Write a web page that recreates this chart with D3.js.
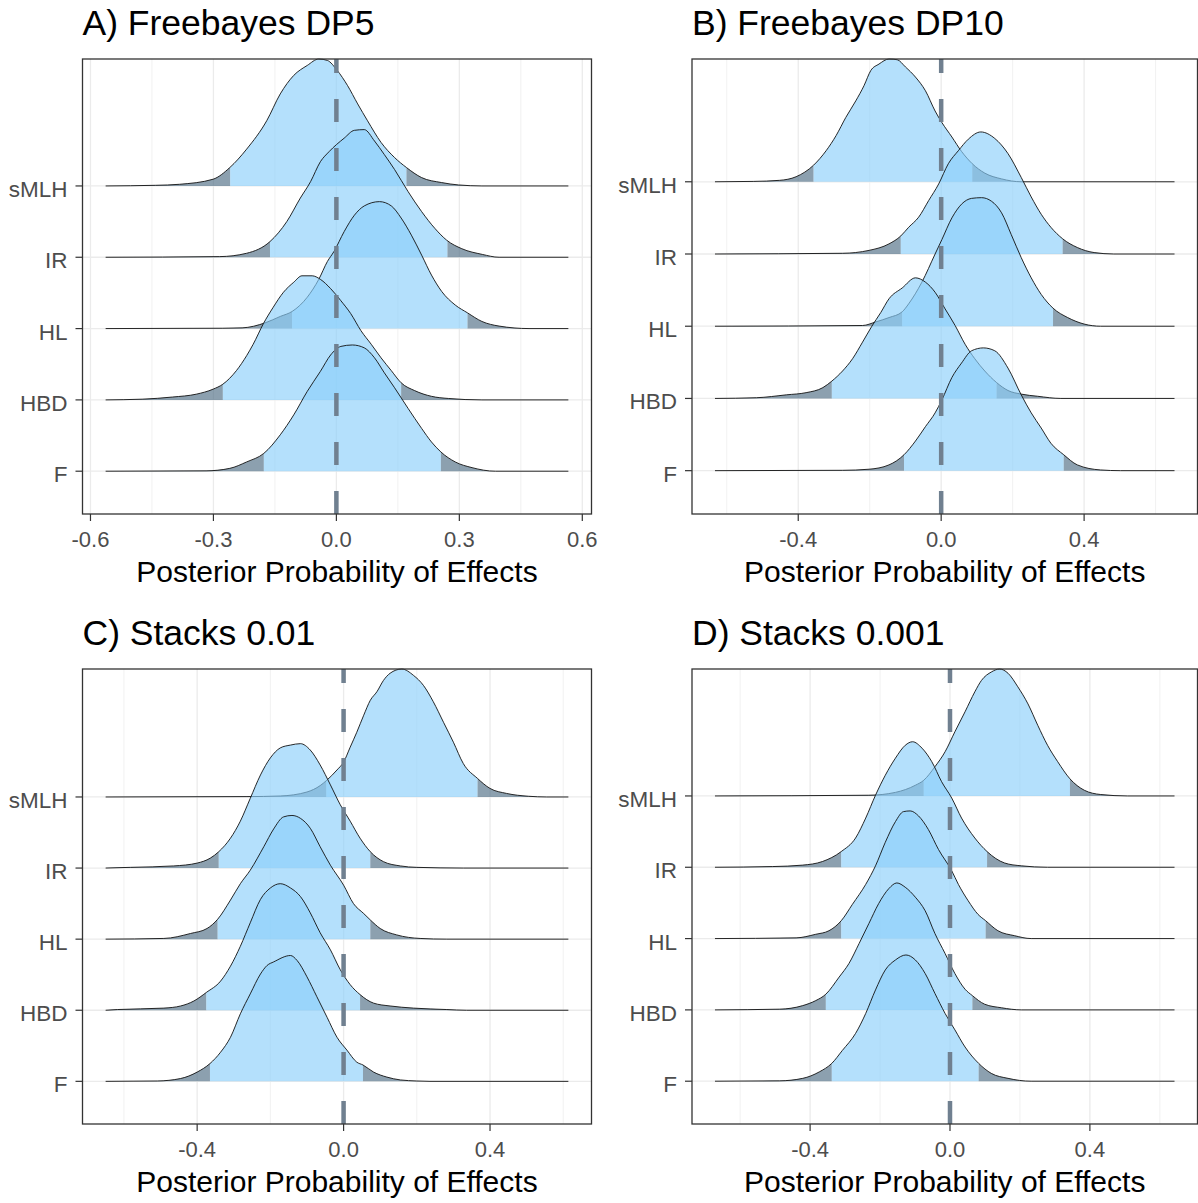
<!DOCTYPE html>
<html>
<head>
<meta charset="utf-8">
<script src="https://cdn.jsdelivr.net/npm/d3@7"></script>
<style>
  body { margin: 0; background: #fff; }
  text { font-family: "Liberation Sans", Arial, sans-serif; }
</style>
</head>
<body>
<div id="chart"></div>
<script>
// Parameters, top row first
const params = ["sMLH", "IR", "HL", "HBD", "F"];
const panelTitles = ["A) Freebayes DP5", "B) Freebayes DP10", "C) Stacks 0.01", "D) Stacks 0.001"];
const axisTitle = "Posterior Probability of Effects";

// x range covered by the density lines in each panel
const xRangeA = [-0.563, 0.566];
const xRangeB = [-0.633, 0.653];
const xRangeC = [-0.650, 0.614];
const xRangeD = [-0.672, 0.642];

// tick values and labels
const ticksA = [-0.6, -0.3, 0, 0.3, 0.6];
const tickLabelsA = ["-0.6", "-0.3", "0.0", "0.3", "0.6"];
const minorA = [-0.45, -0.15, 0.15, 0.45];
const ticksBCD = [-0.4, 0, 0.4];
const tickLabelsBCD = ["-0.4", "0.0", "0.4"];
const minorBCD = [-0.6, -0.2, 0.2, 0.6];

// inner (blue) interval for each parameter: [low, high]
const intervalsA = [[-0.259, 0.171], [-0.162, 0.271], [-0.108, 0.320], [-0.277, 0.158], [-0.177, 0.255]];
const intervalsB = [[-0.357, 0.087], [-0.113, 0.340], [-0.109, 0.313], [-0.306, 0.155], [-0.104, 0.343]];
const intervalsC = [[-0.047, 0.366], [-0.341, 0.073], [-0.344, 0.073], [-0.375, 0.045], [-0.365, 0.053]];
const intervalsD = [[-0.075, 0.343], [-0.311, 0.106], [-0.311, 0.102], [-0.355, 0.064], [-0.338, 0.082]];

// density curves: [effect, height in row units]
const densA_sMLH = [[-0.441,0.009],[-0.383,0.023],[-0.301,0.094],[-0.260,0.258],[-0.219,0.516],[-0.170,0.914],[-0.137,1.29],[-0.104,1.55],[-0.071,1.69],[-0.043,1.78],[-0.022,1.76],[0.002,1.62],[0.027,1.41],[0.052,1.15],[0.076,0.914],[0.109,0.61],[0.142,0.398],[0.171,0.258],[0.208,0.117],[0.257,0.047],[0.298,0.014],[0.355,0]];
const densA_IR = [[-0.285,0.009],[-0.219,0.056],[-0.162,0.22],[-0.121,0.50],[-0.088,0.83],[-0.063,1.06],[-0.039,1.34],[-0.018,1.48],[0.019,1.67],[0.044,1.78],[0.068,1.79],[0.093,1.63],[0.117,1.44],[0.142,1.23],[0.175,0.92],[0.208,0.64],[0.241,0.40],[0.269,0.24],[0.306,0.12],[0.356,0.04],[0.397,0]];
const densA_HL = [[-0.277,0.005],[-0.230,0.01],[-0.174,0.08],[-0.137,0.17],[-0.108,0.24],[-0.071,0.44],[-0.043,0.69],[-0.022,0.94],[-0.006,1.08],[0.019,1.36],[0.044,1.59],[0.068,1.72],[0.105,1.78],[0.134,1.72],[0.158,1.55],[0.183,1.31],[0.208,1.03],[0.232,0.75],[0.257,0.52],[0.290,0.33],[0.320,0.22],[0.355,0.10],[0.397,0.035],[0.470,0]];
const densA_HBD = [[-0.474,0.01],[-0.400,0.04],[-0.342,0.08],[-0.301,0.15],[-0.277,0.22],[-0.244,0.41],[-0.219,0.62],[-0.203,0.78],[-0.178,1.07],[-0.154,1.30],[-0.129,1.51],[-0.104,1.65],[-0.084,1.74],[-0.059,1.74],[-0.039,1.69],[-0.014,1.56],[0.011,1.39],[0.035,1.21],[0.060,0.97],[0.085,0.78],[0.109,0.59],[0.134,0.41],[0.158,0.24],[0.191,0.13],[0.232,0.05],[0.273,0.02],[0.355,0]];
const densA_F = [[-0.318,0.005],[-0.260,0.04],[-0.219,0.13],[-0.177,0.25],[-0.137,0.51],[-0.104,0.79],[-0.071,1.12],[-0.039,1.40],[-0.014,1.63],[0.011,1.75],[0.039,1.77],[0.068,1.73],[0.093,1.59],[0.117,1.38],[0.142,1.17],[0.175,0.88],[0.208,0.60],[0.232,0.41],[0.255,0.27],[0.290,0.13],[0.331,0.05],[0.388,0]];

const densB_sMLH = [[-0.526,0.005],[-0.452,0.02],[-0.406,0.07],[-0.357,0.23],[-0.322,0.43],[-0.294,0.64],[-0.267,0.89],[-0.239,1.12],[-0.216,1.33],[-0.197,1.54],[-0.174,1.63],[-0.146,1.70],[-0.123,1.69],[-0.100,1.59],[-0.072,1.45],[-0.044,1.26],[-0.017,0.98],[0.002,0.82],[0.030,0.62],[0.057,0.42],[0.087,0.25],[0.122,0.12],[0.169,0.04],[0.224,0]];
const densB_IR = [[-0.276,0.01],[-0.202,0.05],[-0.146,0.14],[-0.113,0.25],[-0.091,0.37],[-0.063,0.51],[-0.035,0.74],[-0.007,0.97],[0.020,1.25],[0.048,1.43],[0.076,1.59],[0.111,1.69],[0.150,1.60],[0.187,1.39],[0.224,1.06],[0.252,0.79],[0.280,0.55],[0.307,0.37],[0.340,0.21],[0.381,0.09],[0.428,0.02],[0.483,0]];
const densB_HL = [[-0.220,0.01],[-0.183,0.06],[-0.146,0.12],[-0.109,0.20],[-0.091,0.31],[-0.054,0.61],[-0.017,1.00],[0.002,1.20],[0.030,1.50],[0.057,1.69],[0.085,1.77],[0.113,1.78],[0.141,1.73],[0.169,1.57],[0.196,1.27],[0.224,0.95],[0.252,0.67],[0.280,0.44],[0.313,0.25],[0.354,0.12],[0.400,0.03],[0.446,0]];
const densB_HBD = [[-0.517,0.01],[-0.433,0.05],[-0.378,0.08],[-0.331,0.15],[-0.306,0.24],[-0.276,0.38],[-0.248,0.55],[-0.220,0.78],[-0.194,1.00],[-0.169,1.19],[-0.146,1.38],[-0.109,1.53],[-0.072,1.67],[-0.044,1.61],[-0.017,1.47],[0.011,1.24],[0.039,1.01],[0.067,0.75],[0.094,0.55],[0.122,0.38],[0.155,0.22],[0.187,0.11],[0.224,0.06],[0.270,0.03],[0.335,0]];
const densB_F = [[-0.276,0.005],[-0.202,0.02],[-0.146,0.08],[-0.104,0.22],[-0.072,0.41],[-0.044,0.61],[-0.017,0.80],[0.002,0.98],[0.030,1.29],[0.057,1.49],[0.085,1.66],[0.118,1.70],[0.150,1.66],[0.187,1.42],[0.224,1.05],[0.252,0.80],[0.280,0.59],[0.307,0.38],[0.343,0.22],[0.381,0.08],[0.446,0.01],[0.502,0]];

const densC_sMLH = [[-0.264,0.005],[-0.173,0.014],[-0.100,0.07],[-0.064,0.16],[-0.047,0.23],[-0.018,0.38],[0.000,0.49],[0.018,0.70],[0.036,0.91],[0.055,1.15],[0.073,1.36],[0.091,1.48],[0.109,1.64],[0.127,1.74],[0.159,1.80],[0.191,1.71],[0.218,1.57],[0.245,1.34],[0.273,1.05],[0.300,0.77],[0.327,0.47],[0.366,0.26],[0.400,0.12],[0.445,0.05],[0.505,0.01],[0.555,0]];
const densC_IR = [[-0.582,0.01],[-0.464,0.03],[-0.400,0.07],[-0.364,0.14],[-0.341,0.23],[-0.309,0.42],[-0.282,0.66],[-0.255,0.98],[-0.227,1.31],[-0.200,1.55],[-0.173,1.69],[-0.145,1.73],[-0.118,1.75],[-0.091,1.66],[-0.064,1.45],[-0.036,1.17],[-0.009,0.89],[0.018,0.66],[0.045,0.42],[0.073,0.23],[0.109,0.09],[0.155,0.03],[0.200,0.01],[0.327,0]];
const densC_HL = [[-0.491,0.01],[-0.418,0.08],[-0.373,0.15],[-0.344,0.28],[-0.309,0.55],[-0.282,0.78],[-0.255,0.97],[-0.218,1.30],[-0.191,1.55],[-0.164,1.72],[-0.141,1.74],[-0.118,1.70],[-0.091,1.56],[-0.064,1.30],[-0.036,1.04],[0.000,0.76],[0.027,0.50],[0.055,0.36],[0.073,0.27],[0.100,0.15],[0.145,0.06],[0.209,0.01],[0.282,0]];
const densC_HBD = [[-0.618,0.01],[-0.491,0.03],[-0.445,0.06],[-0.409,0.13],[-0.375,0.25],[-0.336,0.41],[-0.309,0.62],[-0.282,0.90],[-0.255,1.23],[-0.227,1.56],[-0.200,1.72],[-0.173,1.78],[-0.145,1.72],[-0.118,1.60],[-0.091,1.37],[-0.064,1.09],[-0.036,0.85],[-0.009,0.57],[0.018,0.36],[0.045,0.22],[0.082,0.10],[0.127,0.06],[0.191,0.03],[0.282,0.01],[0.336,0]];
const densC_F = [[-0.509,0.005],[-0.445,0.04],[-0.400,0.13],[-0.365,0.25],[-0.336,0.41],[-0.309,0.62],[-0.282,0.95],[-0.255,1.23],[-0.227,1.51],[-0.209,1.63],[-0.191,1.68],[-0.145,1.77],[-0.127,1.70],[-0.100,1.47],[-0.073,1.19],[-0.045,0.90],[-0.018,0.62],[0.009,0.44],[0.036,0.27],[0.053,0.23],[0.082,0.13],[0.118,0.06],[0.155,0.02],[0.200,0.005],[0.236,0]];

const densD_sMLH = [[-0.232,0.01],[-0.156,0.05],[-0.099,0.15],[-0.075,0.22],[-0.043,0.41],[-0.014,0.62],[0.014,0.90],[0.043,1.18],[0.071,1.46],[0.090,1.62],[0.119,1.74],[0.142,1.78],[0.166,1.72],[0.194,1.53],[0.223,1.29],[0.251,0.99],[0.279,0.71],[0.308,0.48],[0.343,0.24],[0.384,0.08],[0.431,0.02],[0.507,0]];
const densD_IR = [[-0.507,0.01],[-0.421,0.03],[-0.365,0.08],[-0.311,0.22],[-0.270,0.41],[-0.241,0.69],[-0.213,1.01],[-0.185,1.29],[-0.156,1.53],[-0.128,1.71],[-0.107,1.76],[-0.080,1.67],[-0.052,1.48],[-0.024,1.20],[0.005,0.97],[0.033,0.69],[0.071,0.41],[0.106,0.22],[0.156,0.06],[0.204,0.02],[0.279,0]];
const densD_HL = [[-0.440,0.01],[-0.384,0.06],[-0.346,0.11],[-0.311,0.25],[-0.279,0.48],[-0.241,0.76],[-0.213,1.02],[-0.185,1.35],[-0.156,1.64],[-0.133,1.78],[-0.114,1.79],[-0.090,1.72],[-0.062,1.53],[-0.033,1.25],[0.005,0.95],[0.024,0.76],[0.052,0.53],[0.080,0.34],[0.102,0.25],[0.137,0.11],[0.185,0.04],[0.232,0]];
const densD_HBD = [[-0.488,0.01],[-0.421,0.06],[-0.384,0.13],[-0.355,0.22],[-0.317,0.46],[-0.289,0.65],[-0.260,0.93],[-0.232,1.21],[-0.204,1.49],[-0.175,1.70],[-0.152,1.78],[-0.128,1.72],[-0.099,1.58],[-0.071,1.39],[-0.043,1.07],[-0.014,0.79],[0.014,0.51],[0.043,0.29],[0.064,0.20],[0.099,0.08],[0.147,0.03],[0.204,0]];
const densD_F = [[-0.488,0.005],[-0.421,0.04],[-0.374,0.13],[-0.338,0.25],[-0.308,0.43],[-0.270,0.67],[-0.241,0.95],[-0.213,1.28],[-0.185,1.56],[-0.156,1.70],[-0.126,1.77],[-0.099,1.70],[-0.071,1.51],[-0.043,1.23],[-0.014,0.95],[0.014,0.72],[0.043,0.48],[0.082,0.25],[0.118,0.11],[0.166,0.04],[0.232,0]];

const panels = [
    { title: panelTitles[0], xRange: xRangeA, ticks: ticksA, tickLabels: tickLabelsA, minor: minorA, intervals: intervalsA,
      dens: [densA_sMLH, densA_IR, densA_HL, densA_HBD, densA_F] },
    { title: panelTitles[1], xRange: xRangeB, ticks: ticksBCD, tickLabels: tickLabelsBCD, minor: minorBCD, intervals: intervalsB,
      dens: [densB_sMLH, densB_IR, densB_HL, densB_HBD, densB_F] },
    { title: panelTitles[2], xRange: xRangeC, ticks: ticksBCD, tickLabels: tickLabelsBCD, minor: minorBCD, intervals: intervalsC,
      dens: [densC_sMLH, densC_IR, densC_HL, densC_HBD, densC_F] },
    { title: panelTitles[3], xRange: xRangeD, ticks: ticksBCD, tickLabels: tickLabelsBCD, minor: minorBCD, intervals: intervalsD,
      dens: [densD_sMLH, densD_IR, densD_HL, densD_HBD, densD_F] }
];

// panel boxes on the page
const boxes = [
    { left: 82.5, top: 59, w: 509, h: 455 },
    { left: 692, top: 59, w: 505.5, h: 455 },
    { left: 82.5, top: 669, w: 509, h: 455 },
    { left: 692, top: 669, w: 505.5, h: 455 }
];

const innerFill = "rgba(140,208,251,0.65)";
const tailFill = "rgba(78,109,132,0.65)";

const svg = d3.select("#chart")
    .append("svg")
    .attr("width", 1198)
    .attr("height", 1203)
    .style("display", "block");

svg.append("rect").attr("width", 1198).attr("height", 1203).attr("fill", "white");
const defs = svg.append("defs");

panels.forEach((p, pi) => {
    const box = boxes[pi];
    const n = params.length;
    const g = svg.append("g").attr("transform", `translate(${box.left},${box.top})`);

    // ggplot-style 5% expansion
    const pad = (p.xRange[1] - p.xRange[0]) * 0.05;
    const x = d3.scaleLinear()
        .domain([p.xRange[0] - pad, p.xRange[1] + pad])
        .range([0, box.w]);

    const yTop = d3.max(p.dens, (d, i) => (n - 1 - i) + d3.max(d, q => q[1]));
    const y = d3.scaleLinear().domain([-0.6, yTop]).range([box.h, 0]);

    // grid
    g.selectAll(".minor").data(p.minor).join("line")
        .attr("x1", d => x(d)).attr("x2", d => x(d))
        .attr("y1", 0).attr("y2", box.h)
        .attr("stroke", "#ebebeb").attr("stroke-width", 0.7);
    g.selectAll(".major").data(p.ticks).join("line")
        .attr("x1", d => x(d)).attr("x2", d => x(d))
        .attr("y1", 0).attr("y2", box.h)
        .attr("stroke", "#ebebeb").attr("stroke-width", 1.3);
    g.selectAll(".hgrid").data(params).join("line")
        .attr("x1", 0).attr("x2", box.w)
        .attr("y1", (d, i) => y(n - 1 - i)).attr("y2", (d, i) => y(n - 1 - i))
        .attr("stroke", "#ebebeb").attr("stroke-width", 1.3);

    // ridges, top row first so lower rows sit over upper tails
    p.dens.forEach((d, i) => {
        const base = n - 1 - i;
        const pts = [[p.xRange[0], 0], ...d, [p.xRange[1], 0]];
        const area = d3.area()
            .x(q => x(q[0]))
            .y0(y(base))
            .y1(q => y(base + q[1]))
            .curve(d3.curveMonotoneX);
        const line = d3.line()
            .x(q => x(q[0]))
            .y(q => y(base + q[1]))
            .curve(d3.curveMonotoneX);

        const [lo, hi] = p.intervals[i];
        const parts = [[0, x(lo), tailFill], [x(lo), x(hi), innerFill], [x(hi), box.w, tailFill]];
        parts.forEach(([a, b, fill], k) => {
            const id = `clip-${pi}-${i}-${k}`;
            defs.append("clipPath").attr("id", id)
                .append("rect")
                .attr("x", a).attr("y", -20)
                .attr("width", b - a).attr("height", box.h + 40);
            g.append("path")
                .attr("d", area(pts))
                .attr("fill", fill)
                .attr("clip-path", `url(#${id})`);
        });

        g.append("path")
            .attr("d", line(pts))
            .attr("fill", "none")
            .attr("stroke", "#111")
            .attr("stroke-width", 0.9);
    });

    // zero line, drawn from the bottom up
    g.append("line")
        .attr("x1", x(0)).attr("x2", x(0))
        .attr("y1", box.h).attr("y2", 0)
        .attr("stroke", "#708090")
        .attr("stroke-width", 4.5)
        .attr("stroke-dasharray", "23 26");

    // panel border
    g.append("rect")
        .attr("width", box.w).attr("height", box.h)
        .attr("fill", "none")
        .attr("stroke", "#333")
        .attr("stroke-width", 1.3);

    // x axis
    g.selectAll(".xtick").data(p.ticks).join("line")
        .attr("x1", d => x(d)).attr("x2", d => x(d))
        .attr("y1", box.h).attr("y2", box.h + 7)
        .attr("stroke", "#333").attr("stroke-width", 1.2);
    g.selectAll(".xlab").data(p.ticks).join("text")
        .attr("x", d => x(d))
        .attr("y", box.h + 33)
        .attr("text-anchor", "middle")
        .style("font-size", "22px")
        .attr("fill", "#4d4d4d")
        .text((d, i) => p.tickLabels[i]);

    // y axis
    g.selectAll(".ytick").data(params).join("line")
        .attr("x1", -7).attr("x2", 0)
        .attr("y1", (d, i) => y(n - 1 - i)).attr("y2", (d, i) => y(n - 1 - i))
        .attr("stroke", "#333").attr("stroke-width", 1.2);
    g.selectAll(".ylab").data(params).join("text")
        .attr("x", -15)
        .attr("y", (d, i) => y(n - 1 - i) + 11)
        .attr("text-anchor", "end")
        .style("font-size", "22.5px")
        .attr("fill", "#4d4d4d")
        .text(d => d);

    // axis title
    g.append("text")
        .attr("x", box.w / 2)
        .attr("y", box.h + 68)
        .attr("text-anchor", "middle")
        .style("font-size", "30px")
        .attr("fill", "#000")
        .text(axisTitle);

    // panel title
    g.append("text")
        .attr("x", 0)
        .attr("y", -24)
        .style("font-size", "35.5px")
        .attr("fill", "#000")
        .text(p.title);
});
</script>
</body>
</html>
